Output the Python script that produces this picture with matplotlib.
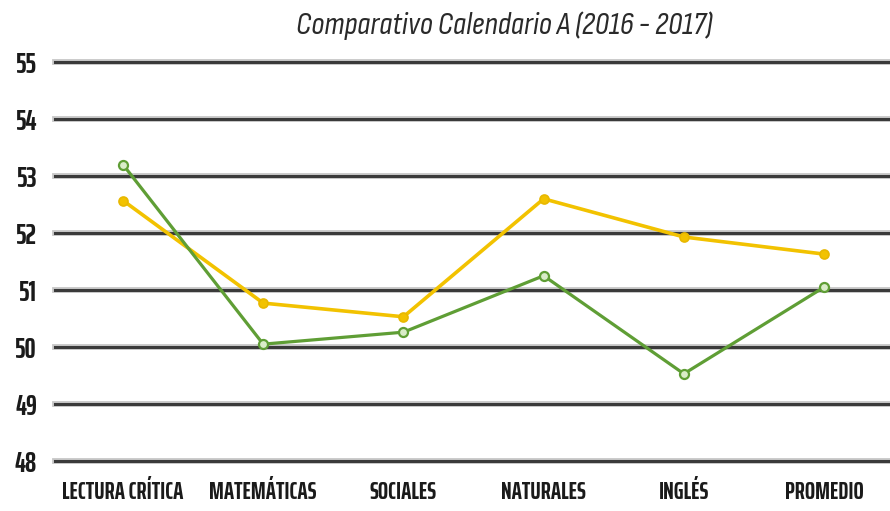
import matplotlib
matplotlib.use("Agg")
import matplotlib.pyplot as plt

categories = ["LECTURA CRÍTICA", "MATEMÁTICAS", "SOCIALES", "NATURALES", "INGLÉS", "PROMEDIO"]
serie_amarilla = [52.57, 50.77, 50.53, 52.6, 51.93, 51.63]
serie_verde = [53.2, 50.05, 50.26, 51.25, 49.53, 51.05]
y_ticks = [48, 49, 50, 51, 52, 53, 54, 55]
title = "Comparativo Calendario A (2016 - 2017)"

label_font = ["Saira ExtraCondensed", "DejaVu Sans"]
title_font = ["Sofia Sans Condensed", "DejaVu Sans"]

W, H = 890, 511
fig = plt.figure(figsize=(W / 100, H / 100), dpi=100)
ax = fig.add_axes([55 / W, (H - 461) / H, (W - 55) / W, 399 / H])

x = list(range(len(categories)))
ax.set_xlim(-0.485, 5.47)
ax.set_ylim(48, 55)

for v in y_ticks:
    ax.axhline(v, color="#c8c8c8", lw=4.2, zorder=1, clip_on=False)
    ax.axhline(v, color="#3a3a3a", lw=2.2, zorder=1.1, clip_on=False)

ax.plot(x, serie_amarilla, color="#f2c200", lw=2.6, marker="o", ms=6.5,
        mfc="#f2c200", mec="#e8b800", mew=1.2, zorder=3)
ax.plot(x, serie_verde, color="#5f9e35", lw=2.3, marker="o", ms=6.5,
        mfc="#d9ecc8", mec="#5f9e35", mew=1.6, zorder=4)

for s in ax.spines.values():
    s.set_visible(False)
ax.tick_params(length=0)
ax.set_yticks(y_ticks)
ax.set_yticklabels([str(v) for v in y_ticks], fontsize=20, fontweight="bold",
                   family=label_font, color="#1a1a1a")
ax.tick_params(axis="y", pad=13)
ax.set_xticks(x)
ax.set_xticklabels(categories, fontsize=17.5, fontweight="bold",
                   family=label_font, color="#1a1a1a")
ax.tick_params(axis="x", pad=14)

fig.text(504 / W, 1 - 26 / H, title, ha="center", va="center", fontsize=23,
         style="italic", family=title_font, color="#2a2a2a")

fig.savefig("out.png", dpi=100, facecolor="white")
